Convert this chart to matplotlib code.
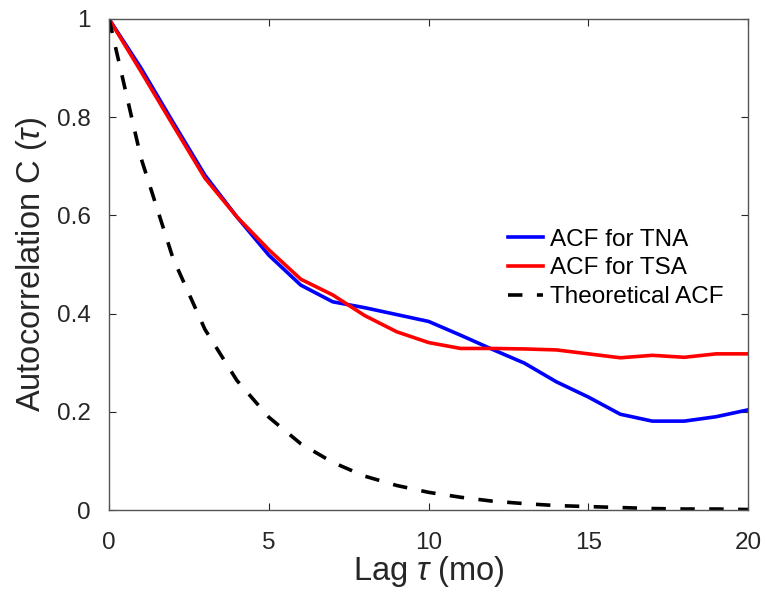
import matplotlib
matplotlib.use("Agg")
import matplotlib.pyplot as plt

plt.rcParams['font.family'] = ['Liberation Sans', 'DejaVu Sans']
plt.rcParams['mathtext.fontset'] = 'custom'
plt.rcParams['mathtext.it'] = 'Liberation Sans:italic'
plt.rcParams['mathtext.rm'] = 'Liberation Sans'

lags = list(range(21))
acf_tna = [1.0, 0.90, 0.79, 0.682, 0.597, 0.519, 0.458, 0.424, 0.412, 0.398, 0.384,
           0.356, 0.327, 0.299, 0.261, 0.230, 0.195, 0.181, 0.181, 0.19, 0.204]
acf_tsa = [1.0, 0.893, 0.784, 0.676, 0.597, 0.53, 0.47, 0.438, 0.396, 0.363, 0.341,
           0.329, 0.329, 0.328, 0.326, 0.318, 0.310, 0.315, 0.311, 0.318, 0.318]
acf_theory = [1.0, 0.717, 0.513, 0.368, 0.264, 0.189, 0.135, 0.097, 0.069, 0.050, 0.036,
              0.026, 0.018, 0.013, 0.009, 0.007, 0.005, 0.003, 0.002, 0.002, 0.001]
xticks = [0, 5, 10, 15, 20]
yticks = [0, 0.2, 0.4, 0.6, 0.8, 1]
ytick_labels = ['0', '0.2', '0.4', '0.6', '0.8', '1']

fig = plt.figure(figsize=(7.65, 5.92), dpi=100)
ax = fig.add_axes([0.1425, 0.1385, 0.8355, 0.8295])

ax.plot(lags, acf_tna, color='#0000ff', lw=2.6, label='ACF for TNA')
ax.plot(lags, acf_tsa, color='#ff0000', lw=2.6, label='ACF for TSA')
ax.plot(lags, acf_theory, color='black', lw=2.6, ls=(0, (4, 4)), label='Theoretical ACF')

ax.set_xlim(0, 20)
ax.set_ylim(0, 1)
ax.set_xticks(xticks)
ax.set_yticks(yticks)
ax.set_yticklabels(ytick_labels)
ax.tick_params(direction='in', length=5, width=0.8, labelsize=17.5, colors='#262626',
               top=True, right=True)
ax.tick_params(axis='x', pad=16)
ax.tick_params(axis='y', pad=13)
ax.tick_params(labeltop=False, labelright=False)
for s in ax.spines.values():
    s.set_color('#555555')
    s.set_linewidth(1.0)

ax.set_xlabel(r'Lag $\tau$ (mo)', fontsize=23.5, color='#262626', labelpad=0)
ax.set_ylabel(r'Autocorrelation C ($\tau$)', fontsize=23.5, color='#262626', labelpad=6)

leg = ax.legend(loc='upper left', bbox_to_anchor=(0.624, 0.573), frameon=False,
                fontsize=17.5, handlelength=1.43, handletextpad=0.3, labelspacing=0.28,
                borderaxespad=0, borderpad=0)

fig.savefig('out.png', dpi=100)
